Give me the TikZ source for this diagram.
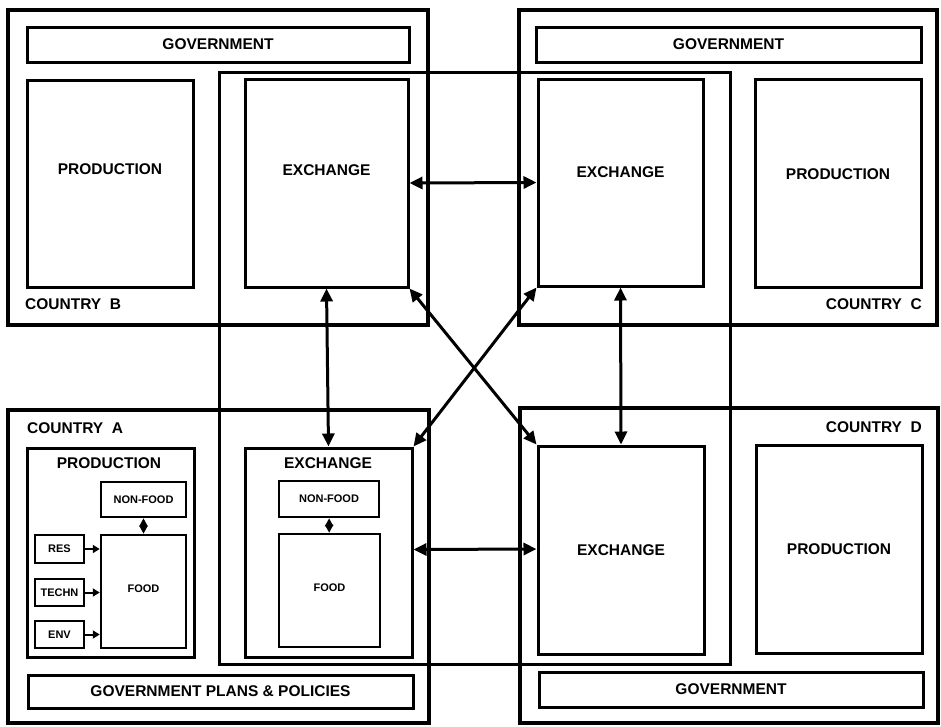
\documentclass[tikz,border=0pt]{standalone}
\usepackage{fontspec}
\setmainfont{Liberation Sans}
\usetikzlibrary{arrows.meta,fit}
\tikzset{
  country/.style={draw, line width=4pt, inner sep=0pt},
  panel/.style={draw, line width=3pt, inner sep=0pt},
  smallbox/.style={draw, line width=2.5pt, inner sep=0pt},
  lbl/.style={font=\fontsize{15.5}{18}\selectfont\bfseries, inner sep=0pt},
  slbl/.style={font=\fontsize{11}{13}\selectfont\bfseries, inner sep=0pt},
  trade/.style={{Triangle[length=13pt,width=12pt]}-{Triangle[length=13pt,width=12pt]}, line width=3pt},
  feed/.style={-{Triangle[length=7pt,width=8pt]}, line width=2pt},
  link/.style={{Triangle[length=8pt,width=8pt]}-{Triangle[length=8pt,width=8pt]}, line width=2pt},
}
\begin{document}
\begin{tikzpicture}[x=1pt, y=-1pt]
\useasboundingbox (0,0) rectangle (941,726);
% Trade zone
\node[panel, fit={(219,72) (730,664)}] (zone) {};
% Country B
\node[country, fit={(8,10) (428,325)}] (cb) {};
\node[panel, fit={(27,27) (409,62)}, label={[lbl,name=bgovl]center:GOVERNMENT}] (bgov) {};
\node[panel, fit={(27,80) (193,287)}] (bprod) {};
\node[lbl] (bprodl) at ([yshift=14pt]bprod.center) {PRODUCTION};
\node[panel, fit={(245,79) (408,287)}] (bexch) {};
\node[lbl] (bexchl) at ([yshift=13pt]bexch.center) {EXCHANGE};
\node[lbl, anchor=west] (cbl) at (25,304) {COUNTRY\ \ B};
% Country C
\node[country, fit={(519,10) (937,325)}] (cc) {};
\node[panel, fit={(536,27) (921,62)}, label={[lbl,name=cgovl]center:GOVERNMENT}] (cgov) {};
\node[panel, fit={(538,79) (703,286)}] (cexch) {};
\node[lbl] (cexchl) at ([yshift=10pt]cexch.center) {EXCHANGE};
\node[panel, fit={(755,79) (921,287)}] (cprod) {};
\node[lbl] (cprodl) at ([yshift=9pt]cprod.center) {PRODUCTION};
\node[lbl, anchor=east] (ccl) at (922,304) {COUNTRY\ \ C};
% Country D
\node[country, fit={(520,408) (938,723)}] (cd) {};
\node[panel, fit={(538,446) (704,654)}, label={[lbl,name=dexchl]center:EXCHANGE}] (dexch) {};
\node[panel, fit={(756,445) (922,653)}, label={[lbl,name=dprodl]center:PRODUCTION}] (dprod) {};
\node[panel, fit={(539,672) (923,707)}, label={[lbl,name=dgovl]center:GOVERNMENT}] (dgov) {};
\node[lbl, anchor=east] (cdl) at (922,427) {COUNTRY\ \ D};
% Country A
\node[country, fit={(8,410) (429,723)}] (ca) {};
\node[lbl, anchor=west] (cal) at (27,428) {COUNTRY\ \ A};
\node[panel, fit={(27,448) (194,657)}] (aprod) {};
\node[lbl] (aprodl) at (109,463) {PRODUCTION};
\node[smallbox, fit={(101,482) (186,517)}, label={[slbl,name=pnonfoodl]center:NON-FOOD}] (pnonfood) {};
\node[smallbox, fit={(101,535) (186,648)}, label={[slbl,name=pfoodl,yshift=3pt]center:FOOD}] (pfood) {};
\node[smallbox, fit={(35,535) (84,563)}, label={[slbl,name=resl]center:RES}] (res) {};
\node[smallbox, fit={(35,579) (84,606)}, label={[slbl,name=technl]center:TECHN}] (techn) {};
\node[smallbox, fit={(35,621) (84,648)}, label={[slbl,name=envl]center:ENV}] (env) {};
\node[panel, fit={(245,448) (412,657)}] (aexch) {};
\node[lbl] (aexchl) at (328,463) {EXCHANGE};
\node[smallbox, fit={(279,481) (379,517)}, label={[slbl,name=enonfoodl]center:NON-FOOD}] (enonfood) {};
\node[smallbox, fit={(279,534) (380,647)}, label={[slbl,name=efoodl,yshift=3pt]center:FOOD}] (efood) {};
\node[panel, fit={(28,675) (413,708)}, label={[lbl,name=agovl]center:GOVERNMENT PLANS \& POLICIES}] (agov) {};
% Inside country A
\draw[feed] (res) -- (res -| pfood.west);
\draw[feed] (techn) -- (techn -| pfood.west);
\draw[feed] (env) -- (env -| pfood.west);
\draw[link] (pnonfood) -- (pfood);
\draw[link] (enonfood) -- (efood);
% Trade links
\draw[trade] (bexch.east) -- (cexch.west);
\draw[trade] ([yshift=3pt]aexch.east) -- ([yshift=1pt]dexch.west);
\draw[trade] (bexch.south) -- (aexch.north);
\draw[trade] (cexch.south) -- (dexch.north);
\draw[trade] (bexch.south east) -- (dexch.north west);
\draw[trade] (cexch.south west) -- (aexch.north east);
\end{tikzpicture}
\end{document}
